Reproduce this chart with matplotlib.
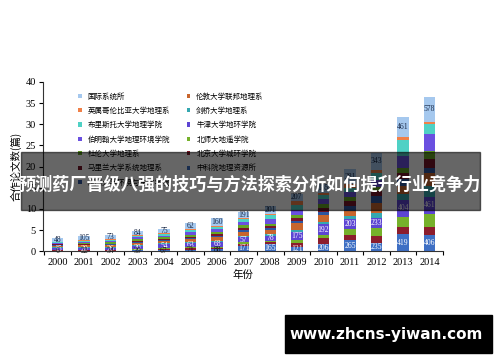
import matplotlib
matplotlib.use('Agg')
import matplotlib.pyplot as plt
from matplotlib.patches import Rectangle
import numpy as np

years = ['2000', '2001', '2002', '2003', '2004', '2005', '2006', '2007',
         '2008', '2009', '2010', '2011', '2012', '2013', '2014']

# stack order, bottom to top
names = ['中科院地理资源所', '北京大学城环学院', '北师大地遥学院', '牛津大学地环学院',
         '剑桥大学地理系', '伦敦大学联邦地理系', '厦门大学环境与生态学院',
         '马里兰大学系统地理系', '杜伦大学地理系', '伯明翰大学地理环境学院',
         '布里斯托大学地理学院', '英属哥伦比亚大学地理系', '国际系统所']

cas = [0.15, 0.15, 0.15, 0.2, 0.3, 0.4, 0.6, 1.3, 1.6, 1.1, 1.6, 2.7, 1.9, 4.0, 3.8]
pku = [0.1, 0.1, 0.1, 0.15, 0.2, 0.3, 0.2, 0.5, 0.6, 0.9, 1.5, 1.2, 1.7, 1.7, 2.0]
bnu = [0.1, 0.1, 0.1, 0.15, 0.2, 0.2, 0.2, 0.4, 0.3, 0.6, 0.7, 1.4, 1.8, 2.5, 3.0]
oxford = [0.45, 0.5, 0.4, 0.7, 0.9, 1.0, 1.2, 1.1, 1.2, 2.0, 2.6, 2.3, 2.4, 4.0, 4.1]
cambridge = [0.2, 0.2, 0.25, 0.3, 0.3, 0.3, 0.3, 0.4, 0.4, 0.4, 0.6, 0.8, 1.2, 1.3, 2.4]
london = [0.3, 0.35, 0.4, 0.5, 0.5, 0.6, 0.9, 0.9, 0.8, 1.6, 1.5, 1.2, 2.5, 2.0, 3.1]
xiamen = [0.15, 0.15, 0.2, 0.2, 0.3, 0.3, 0.3, 0.4, 0.5, 0.6, 0.8, 1.2, 1.5, 1.6, 1.2]
maryland = [0.15, 0.2, 0.2, 0.3, 0.3, 0.3, 0.4, 0.5, 0.5, 0.7, 1.0, 1.0, 1.2, 1.5, 2.2]
durham = [0.2, 0.25, 0.3, 0.4, 0.3, 0.4, 0.5, 0.6, 0.6, 0.6, 0.9, 1.0, 1.0, 1.1, 1.9]
birmingham = [0.2, 0.25, 0.3, 0.4, 0.4, 0.7, 0.6, 0.8, 1.0, 1.3, 1.1, 1.2, 1.6, 2.7, 3.9]
bristol = [0.15, 0.2, 0.25, 0.3, 0.3, 0.5, 0.5, 0.6, 1.0, 1.2, 0.9, 1.0, 1.7, 4.0, 2.4]
ubc = [0.1, 0.15, 0.15, 0.2, 0.2, 0.3, 0.3, 0.3, 0.4, 0.8, 0.6, 0.8, 0.8, 0.7, 0.6]
intl = [0.95, 1.1, 1.1, 1.0, 1.0, 1.3, 1.8, 1.5, 1.8, 1.8, 2.2, 3.6, 3.9, 4.7, 5.9]

top_labels = [48, 105, 73, 84, 75, 62, 160, 191, 201, 207, 185, 281, 343, 461, 578]
mid_labels = [15, 20, 26, 30, 54, 63, 68, 57, 78, 175, 192, 203, 233, 404, 461]
bottom_labels = [6, 22, 34, 39, 67, 71, 88, 171, 165, 121, 206, 265, 235, 419, 406]

colors = ['#3e6fc4', '#8c1d2d', '#76b12b', '#5d45d3', '#35a8b0', '#c8652d',
          '#2d56a0', '#7a1428', '#66a524', '#6a50e0', '#4fd1c5', '#f08048', '#a5c8ee']


def main():
    plt.rcParams['font.family'] = ['Liberation Serif', 'Noto Sans CJK SC']
    fig = plt.figure(figsize=(5, 3.62), dpi=100)
    ax = fig.add_axes([0.086, 0.306, 0.80, 0.4675])

    series = [cas, pku, bnu, oxford, cambridge, london, xiamen, maryland,
              durham, birmingham, bristol, ubc, intl]
    x = np.arange(len(years))
    bottom = np.zeros(len(years))
    starts = []
    handles = []
    for name, vals, c in zip(names, series, colors):
        starts.append(bottom.copy())
        b = ax.bar(x, vals, 0.43, bottom=bottom, color=c, label=name, linewidth=0)
        handles.append(b)
        bottom = bottom + np.array(vals)

    for i in range(len(years)):
        ax.text(x[i], starts[12][i] + intl[i] / 2, str(top_labels[i]), ha='center',
                va='center', fontsize=5.5, color='#1a2a48')
        ax.text(x[i], starts[3][i] + oxford[i] / 2, str(mid_labels[i]), ha='center',
                va='center', fontsize=5.5, color='white')
        ax.text(x[i], cas[i] / 2, str(bottom_labels[i]), ha='center', va='center',
                fontsize=5.5, color='white' if cas[i] >= 1 else '#1a1a1a')

    ax.set_ylim(0, 40)
    ax.set_xlim(-0.55, 14.5)
    ax.set_yticks(range(0, 41, 5))
    ax.set_xticks(np.arange(-0.5, 15, 1))
    ax.set_xticklabels([])
    ax.set_xticks(x, minor=True)
    ax.set_xticklabels(years, minor=True)
    ax.tick_params(axis='x', which='minor', length=0, pad=5, labelsize=7.5)
    ax.tick_params(axis='x', which='major', length=3, direction='out')
    ax.tick_params(axis='y', length=3, direction='out', labelsize=7.5, pad=2)
    for s in ['top', 'right']:
        ax.spines[s].set_visible(False)
    for s in ['left', 'bottom']:
        ax.spines[s].set_color('#333333')

    ax.set_ylabel('合作论文数(篇)', fontsize=7.5, family=['Noto Sans CJK SC'], labelpad=3)
    ax.set_xlabel('年份', fontsize=7.5, family=['Noto Sans CJK SC'], labelpad=2)

    ax.legend(handles[::-1], names[::-1], ncol=2, frameon=False,
              loc='upper left', bbox_to_anchor=(0.148, 0.755),
              bbox_transform=fig.transFigure,
              prop={'family': ['Noto Sans CJK SC'], 'size': 5.4},
              handlelength=0.5, handleheight=0.5, handletextpad=0.8,
              labelspacing=0.85, columnspacing=2.2, borderpad=0)

    # banner overlay
    fig.add_artist(Rectangle((21 / 500, 1 - 210 / 362), 459 / 500, 58 / 362,
                             transform=fig.transFigure, color='black', alpha=0.6, zorder=10))
    fig.text(250 / 500, 1 - 185 / 362, '预测药厂晋级八强的技巧与方法探索分析如何提升行业竞争力',
             ha='center', va='center', color='white', fontsize=12.3, fontweight='bold',
             family=['Noto Sans CJK SC'], zorder=11)

    # watermark box
    fig.add_artist(Rectangle((285 / 500, 1 - 353 / 362), 207 / 500, 38 / 362,
                             transform=fig.transFigure, color='black', zorder=10))
    fig.text(386 / 500, 1 - 335 / 362, 'www.zhcns-yiwan.com', ha='center', va='center',
             color='white', fontsize=11, fontweight='bold', family=['DejaVu Sans'], zorder=11)

    fig.savefig('out.png', dpi=100)


if __name__ == '__main__':
    main()
